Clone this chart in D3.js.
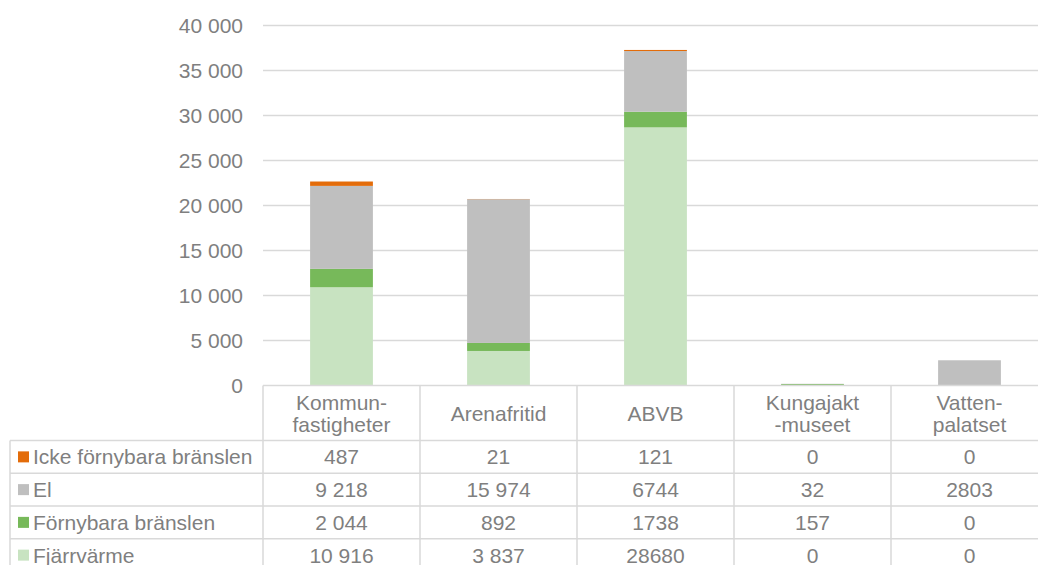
<!DOCTYPE html>
<html>
<head>
<meta charset="utf-8">
<script src="https://cdn.jsdelivr.net/npm/d3@7"></script>
<style>
  body { margin: 0; background: #fff; overflow: hidden; }
  svg { display: block; font-family: "Liberation Sans", Arial, sans-serif; }
</style>
</head>
<body>
<div id="chart"></div>
<script>
// categories (header lines of the data table)
const categories = [['Kommun-', 'fastigheter'], ['Arenafritid'], ['ABVB'], ['Kungajakt', '-museet'], ['Vatten-', 'palatset']];

// series values, one per category
const ickeFornybara = [487, 21, 121, 0, 0];
const el = [9218, 15974, 6744, 32, 2803];
const fornybara = [2044, 892, 1738, 157, 0];
const fjarrvarme = [10916, 3837, 28680, 0, 0];

const seriesNames = ['Icke förnybara bränslen', 'El', 'Förnybara bränslen', 'Fjärrvärme'];
const seriesColors = ['#E36C0A', '#BFBFBF', '#77B95A', '#C8E3C1'];

// the table shows thousands grouping only in the first two columns
const groupedColumns = [true, true, false, false, false];

const yTicks = [0, 5000, 10000, 15000, 20000, 25000, 30000, 35000, 40000];

const width = 1038;
const height = 565;

const svLocale = d3.formatLocale({ decimal: ',', thousands: '\u00a0', grouping: [3], currency: ['', ' kr'] });
const fmtGrouped = svLocale.format(',d');
const fmtPlain = d3.format('d');

const seriesValues = [ickeFornybara, el, fornybara, fjarrvarme];

function createChart() {
  const svg = d3.select('#chart')
    .append('svg')
    .attr('width', width)
    .attr('height', height);

  // plot area runs a little past the right edge of the picture
  const plot = { left: 263, right: 1048, top: 25.5, bottom: 385.5 };
  const tableLeft = 10;
  const headerBottom = 440.5;
  const rowH = 32.75;
  const fontSize = 21;
  const textColor = '#7F7F7F';
  const lineColor = '#D9D9D9';

  const x = d3.scaleBand()
    .domain(d3.range(categories.length))
    .range([plot.left, plot.right])
    .paddingInner(0.6)
    .paddingOuter(0.3);

  const cellX = d3.scaleBand()
    .domain(d3.range(categories.length))
    .range([plot.left, plot.right]);

  const y = d3.scaleLinear()
    .domain([0, 40000])
    .range([plot.bottom, plot.top]);

  // gridlines
  svg.append('g')
    .selectAll('line')
    .data(yTicks.filter(d => d > 0))
    .join('line')
    .attr('x1', plot.left)
    .attr('x2', plot.right)
    .attr('y1', d => y(d))
    .attr('y2', d => y(d))
    .attr('stroke', lineColor)
    .attr('stroke-width', 1.5);

  // y axis labels
  svg.append('g')
    .selectAll('text')
    .data(yTicks)
    .join('text')
    .attr('x', 243)
    .attr('y', d => y(d))
    .attr('dy', '0.36em')
    .attr('text-anchor', 'end')
    .attr('font-size', fontSize)
    .attr('fill', textColor)
    .text(d => fmtGrouped(d));

  // stacked bars, bottom series first
  const rows = categories.map((c, i) => ({
    i,
    fjarrvarme: fjarrvarme[i],
    fornybara: fornybara[i],
    el: el[i],
    icke: ickeFornybara[i],
  }));
  const keys = ['fjarrvarme', 'fornybara', 'el', 'icke'];
  const keyColors = [seriesColors[3], seriesColors[2], seriesColors[1], seriesColors[0]];
  const stacked = d3.stack().keys(keys)(rows);

  svg.append('g')
    .selectAll('g')
    .data(stacked)
    .join('g')
    .attr('fill', (d, k) => keyColors[k])
    .selectAll('rect')
    .data(d => d)
    .join('rect')
    .attr('x', d => x(d.data.i))
    .attr('width', x.bandwidth())
    .attr('y', d => y(d[1]))
    .attr('height', d => y(d[0]) - y(d[1]));

  // data table
  const table = svg.append('g').attr('stroke', lineColor).attr('stroke-width', 1.5);
  const tableBottom = headerBottom + rowH * 4;

  table.append('line')
    .attr('x1', plot.left).attr('x2', plot.right)
    .attr('y1', plot.bottom).attr('y2', plot.bottom);

  table.selectAll('line.h')
    .data(d3.range(5))
    .join('line')
    .attr('class', 'h')
    .attr('x1', tableLeft).attr('x2', plot.right)
    .attr('y1', r => headerBottom + r * rowH)
    .attr('y2', r => headerBottom + r * rowH);

  table.append('line')
    .attr('x1', tableLeft).attr('x2', tableLeft)
    .attr('y1', headerBottom).attr('y2', tableBottom);

  table.selectAll('line.v')
    .data(d3.range(categories.length + 1))
    .join('line')
    .attr('class', 'v')
    .attr('x1', i => plot.left + i * cellX.step())
    .attr('x2', i => plot.left + i * cellX.step())
    .attr('y1', plot.bottom)
    .attr('y2', tableBottom);

  // header category labels
  const header = svg.append('g')
    .attr('font-size', fontSize)
    .attr('fill', textColor)
    .attr('text-anchor', 'middle');

  header.selectAll('text')
    .data(categories)
    .join('text')
    .attr('x', (d, i) => cellX(i) + cellX.bandwidth() / 2)
    .attr('y', d => (plot.bottom + headerBottom) / 2 - (d.length - 1) * 11)
    .each(function (d) {
      d3.select(this).selectAll('tspan')
        .data(d)
        .join('tspan')
        .attr('x', d3.select(this).attr('x'))
        .attr('dy', (t, j) => j === 0 ? '0.36em' : 22)
        .text(t => t);
    });

  // series rows
  const rowG = svg.append('g')
    .selectAll('g')
    .data(seriesNames)
    .join('g')
    .attr('transform', (d, r) => `translate(0, ${headerBottom + r * rowH + rowH / 2})`);

  rowG.append('rect')
    .attr('x', 18)
    .attr('y', -5.5)
    .attr('width', 11)
    .attr('height', 11)
    .attr('fill', (d, r) => seriesColors[r]);

  rowG.append('text')
    .attr('x', 33)
    .attr('dy', '0.36em')
    .attr('font-size', fontSize)
    .attr('fill', textColor)
    .text(d => d);

  rowG.selectAll('text.val')
    .data((d, r) => seriesValues[r])
    .join('text')
    .attr('class', 'val')
    .attr('x', (v, i) => cellX(i) + cellX.bandwidth() / 2)
    .attr('dy', '0.36em')
    .attr('text-anchor', 'middle')
    .attr('font-size', fontSize)
    .attr('fill', textColor)
    .text((v, i) => groupedColumns[i] ? fmtGrouped(v) : fmtPlain(v));
}

document.addEventListener('DOMContentLoaded', createChart);
</script>
</body>
</html>
